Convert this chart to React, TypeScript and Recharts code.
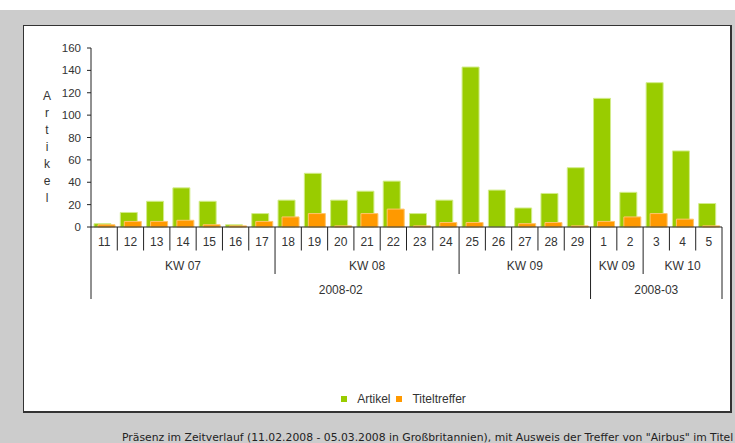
import { BarChart, Bar, XAxis, YAxis } from "recharts"

const days = ["11", "12", "13", "14", "15", "16", "17", "18", "19", "20", "21", "22", "23", "24", "25", "26", "27", "28", "29", "1", "2", "3", "4", "5"]
const weeks = [
  "KW 07", "KW 07", "KW 07", "KW 07", "KW 07", "KW 07", "KW 07",
  "KW 08", "KW 08", "KW 08", "KW 08", "KW 08", "KW 08", "KW 08",
  "KW 09", "KW 09", "KW 09", "KW 09", "KW 09",
  "KW 09", "KW 09",
  "KW 10", "KW 10", "KW 10",
]
const months = [
  "2008-02", "2008-02", "2008-02", "2008-02", "2008-02", "2008-02", "2008-02", "2008-02", "2008-02", "2008-02",
  "2008-02", "2008-02", "2008-02", "2008-02", "2008-02", "2008-02", "2008-02", "2008-02", "2008-02",
  "2008-03", "2008-03", "2008-03", "2008-03", "2008-03",
]
const artikel = [3, 13, 23, 35, 23, 2, 12, 24, 48, 24, 32, 41, 12, 24, 143, 33, 17, 30, 53, 115, 31, 129, 68, 21]
const titeltreffer = [2, 5, 5, 6, 2, 1, 5, 9, 12, 1, 12, 16, 1, 4, 4, 0, 3, 4, 1, 5, 9, 12, 7, 1]
const yTicks = [0, 20, 40, 60, 80, 100, 120, 140, 160]

const GREEN = "#99cc00"
const ORANGE = "#ff9900"
const PLOT_W = 631
const BAND = PLOT_W / days.length

const data = days.map((d, i) => ({
  day: d,
  Artikel: artikel[i],
  Titeltreffer: titeltreffer[i],
}))

const isMonthStart = (i: number) => i === 0 || months[i] !== months[i - 1]
const isWeekStart = (i: number) => isMonthStart(i) || weeks[i] !== weeks[i - 1]

function runLength(i: number, startFn: (j: number) => boolean) {
  let n = 1
  while (i + n < days.length && !startFn(i + n)) n++
  return n
}

// three-row axis: day / calendar week / month
function HierTick(props: any) {
  const { x, y, index, payload } = props
  const i = index ?? payload.index
  const left = x - BAND / 2
  const depth = isMonthStart(i) ? 72 : isWeekStart(i) ? 47 : 23.5
  const txt = { fontSize: 12, fill: "#333", textAnchor: "middle" as const }
  const last = i === days.length - 1
  return (
    <g>
      <line x1={left} x2={left} y1={y} y2={y + depth} stroke="#222" />
      {last && <line x1={left + BAND} x2={left + BAND} y1={y} y2={y + 72} stroke="#222" />}
      <text x={x} y={y + 19} {...txt}>{payload.value}</text>
      {isWeekStart(i) && (
        <text x={left + (runLength(i, isWeekStart) * BAND) / 2} y={y + 43} {...txt}>{weeks[i]}</text>
      )}
      {isMonthStart(i) && (
        <text x={left + (runLength(i, isMonthStart) * BAND) / 2} y={y + 67} {...txt}>{months[i]}</text>
      )}
    </g>
  )
}

function YTitle() {
  return (
    <text x={47} y={100} textAnchor="middle" fontSize={12} fill="#333">
      {"Artikel".split("").map((c, k) => (
        <tspan key={k} x={47} dy={k === 0 ? 0 : 17}>{c}</tspan>
      ))}
    </text>
  )
}

const legendItems = [
  { name: "Artikel", color: GREEN },
  { name: "Titeltreffer", color: ORANGE },
]

export default function App() {
  return (
    <div style={{ position: "absolute", left: 0, top: 0, width: 735, height: 443, overflow: "hidden", background: "#cccccc" }}>
      <div style={{ position: "absolute", left: 0, top: 0, width: 735, height: 10, background: "#fff" }} />
      <div
        style={{
          position: "absolute",
          left: 23,
          top: 25,
          width: 706,
          height: 385,
          background: "#fff",
          borderTop: "1px solid #333",
          borderLeft: "1px solid #333",
          borderRight: "2px solid #333",
          borderBottom: "2px solid #333",
        }}
      />
      <div style={{ position: "absolute", left: 0, top: 0 }}>
        <BarChart
          width={735}
          height={443}
          data={data}
          margin={{ top: 48, right: 13, bottom: 136, left: 0 }}
          barGap={-13}
          style={{ fontFamily: '"Liberation Sans", Arial, sans-serif' }}
        >
          <XAxis
            dataKey="day"
            interval={0}
            height={80}
            tickLine={false}
            tickSize={0}
            tickMargin={0}
            axisLine={{ stroke: "#222" }}
            tick={<HierTick />}
          />
          <YAxis
            width={91}
            domain={[0, 160]}
            ticks={yTicks}
            tickSize={4}
            tickMargin={6}
            axisLine={{ stroke: "#222" }}
            tickLine={{ stroke: "#222" }}
            tick={{ fontSize: 11.5, fill: "#333" }}
            label={{ content: <YTitle /> }}
          />
          <Bar dataKey="Artikel" fill={GREEN} stroke="#d2ec8a" strokeWidth={1} barSize={17} isAnimationActive={false} />
          <Bar dataKey="Titeltreffer" fill={ORANGE} stroke="#ffc46a" strokeWidth={1} barSize={17} isAnimationActive={false} />
        </BarChart>
      </div>
      <div
        style={{
          position: "absolute",
          left: 91,
          top: 391,
          width: 631,
          display: "flex",
          justifyContent: "center",
          alignItems: "center",
          fontSize: 12,
          lineHeight: "16px",
          color: "#333",
          fontFamily: '"Liberation Sans", Arial, sans-serif',
        }}
      >
        {legendItems.map((it) => (
          <span key={it.name} style={{ display: "flex", alignItems: "center", marginRight: 6 }}>
            <span style={{ width: 6, height: 6, background: it.color, marginRight: 10 }} />
            {it.name}
          </span>
        ))}
      </div>
      <svg width={735} height={443} style={{ position: "absolute", left: 0, top: 0, pointerEvents: "none" }}>
        <text x={122} y={441} fontSize={10.8} fill="#222" fontFamily='"DejaVu Sans", Verdana, sans-serif'>
          Präsenz im Zeitverlauf (11.02.2008 - 05.03.2008 in Großbritannien), mit Ausweis der Treffer von "Airbus" im Titel
        </text>
      </svg>
    </div>
  )
}
